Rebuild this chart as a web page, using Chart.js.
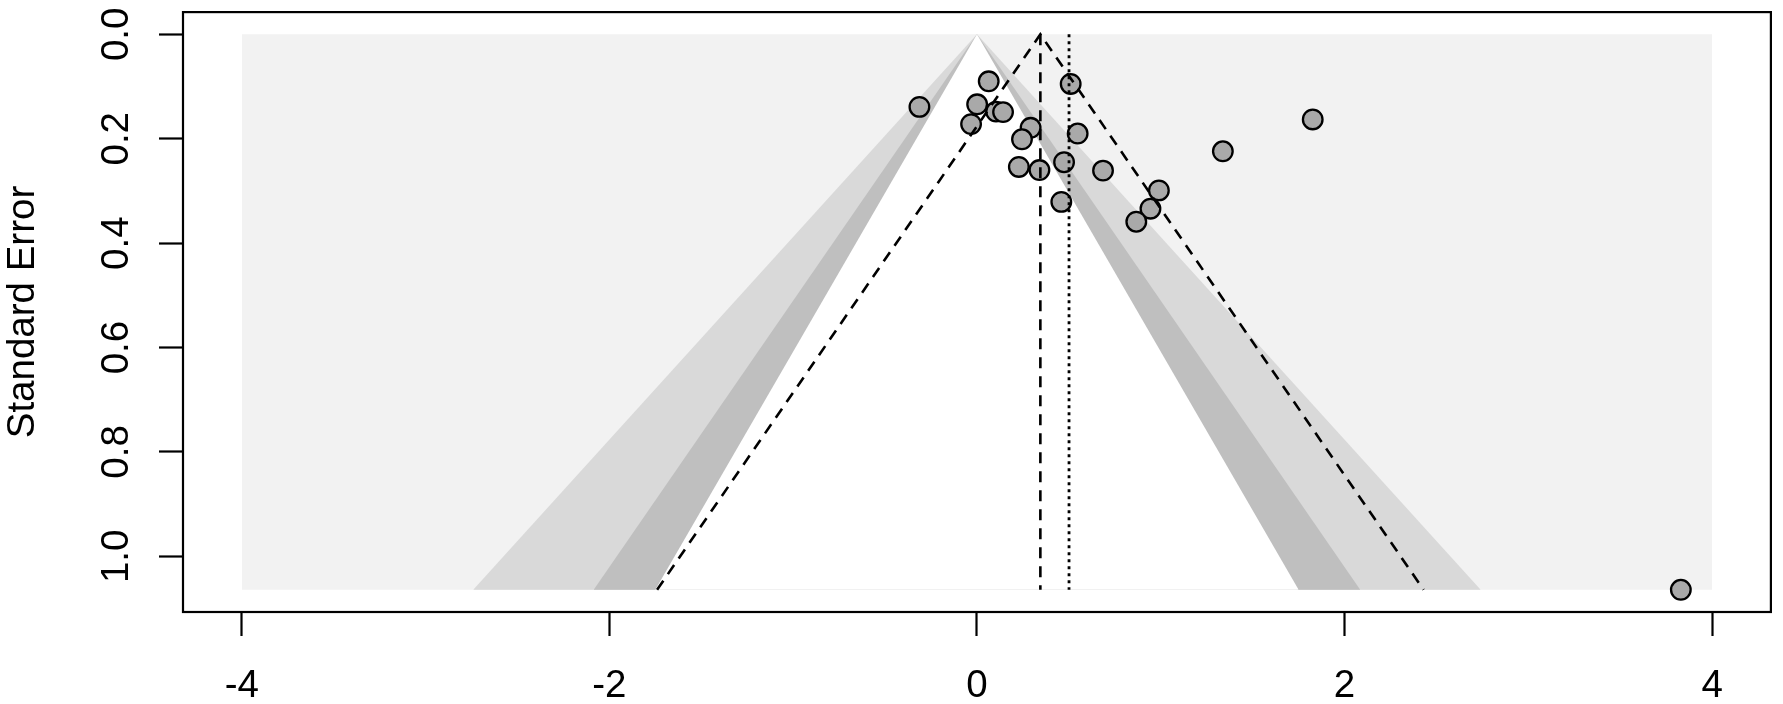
<!DOCTYPE html>
<html lang="en">
<head>
    <meta charset="UTF-8">
    <title>Funnel plot</title>
    <!-- ChartJS cdn -->
    <script src="https://cdn.jsdelivr.net/npm/chart.js"></script>
    <style>
        body { margin: 0; background: #fff; }
        .chart-box { width: 1783px; height: 704px; }
    </style>
</head>
<body>
    <div class="chart-box">
        <canvas class="custom-chart"></canvas>
    </div>

    <script type="text/javascript">
        // study data (effect size, standard error)
        var effectSizes = [-0.313, 0.064, 0.001, 0.104, 0.142, -0.032, 0.292, 0.245, 0.228, 0.340, 0.474,
                           0.459, 0.510, 0.548, 0.686, 0.990, 0.944, 0.867, 1.338, 1.827, 3.830];
        var standardErrors = [0.139, 0.090, 0.134, 0.148, 0.149, 0.172, 0.179, 0.201, 0.254, 0.260, 0.245,
                              0.321, 0.095, 0.190, 0.261, 0.299, 0.334, 0.359, 0.224, 0.163, 1.064];

        var pooledEstimate = 0.345;   // dashed line + pseudo confidence funnel
        var dottedEstimate = 0.501;   // dotted line
        var seMax = 1.064;            // bottom of the funnel
        var xLimits = [-4, 4];        // grey background extent
        var contourZ = [2.576, 1.96, 1.645]; // p = .01, .05, .10 contours

        var xTicks = [-4, -2, 0, 2, 4];
        var xTickLabels = ['-4', '-2', '0', '2', '4'];
        var yTicks = [0, 0.2, 0.4, 0.6, 0.8, 1.0];
        var yTickLabels = ['0.0', '0.2', '0.4', '0.6', '0.8', '1.0'];

        var FONT = 'Liberation Sans, Arial, sans-serif';
        var FONT_SIZE = 38.5;

        // triangle centred on zero, filled down to seMax
        function contour(z, color, order) {
            var a = z * seMax;
            return {
                data: [{ x: -a, y: seMax }, { x: 0, y: 0 }, { x: a, y: seMax }],
                fill: { value: seMax },
                backgroundColor: color,
                borderWidth: 0,
                pointRadius: 0,
                order: order
            };
        }

        var points = [];
        for (var i = 0; i < effectSizes.length; i++) {
            points.push({ x: effectSizes[i], y: standardErrors[i] });
        }

        var ciHalf = 1.96 * seMax;
        var datasets = [
            // background
            {
                data: [{ x: xLimits[0], y: 0 }, { x: xLimits[1], y: 0 }],
                fill: { value: seMax },
                backgroundColor: '#f2f2f2',
                borderWidth: 0,
                pointRadius: 0,
                order: 6
            },
            contour(contourZ[0], '#d9d9d9', 5),
            contour(contourZ[1], '#bfbfbf', 4),
            contour(contourZ[2], '#ffffff', 3),
            // studies
            {
                data: points,
                showLine: false,
                pointRadius: 9.8,
                pointBorderWidth: 2.3,
                pointBackgroundColor: '#a9a9a9',
                pointBorderColor: '#000',
                order: 2
            },
            // pseudo confidence funnel
            {
                data: [{ x: pooledEstimate - ciHalf, y: seMax }, { x: pooledEstimate, y: 0 }, { x: pooledEstimate + ciHalf, y: seMax }],
                fill: false,
                borderColor: '#000',
                borderWidth: 2.6,
                borderDash: [11, 8],
                pointRadius: 0,
                order: 1
            },
            {
                data: [{ x: pooledEstimate, y: 0 }, { x: pooledEstimate, y: seMax }],
                fill: false,
                borderColor: '#000',
                borderWidth: 2.6,
                borderDash: [11, 8],
                pointRadius: 0,
                order: 1
            },
            {
                data: [{ x: dottedEstimate, y: 0 }, { x: dottedEstimate, y: seMax }],
                fill: false,
                borderColor: '#000',
                borderWidth: 2.8,
                borderDash: [3, 4],
                pointRadius: 0,
                order: 1
            }
        ];

        // frame around the plot + rotated y labels (R style)
        var framePlugin = {
            id: 'frame',
            afterDraw: function (chart) {
                var ctx = chart.ctx;
                var area = chart.chartArea;
                ctx.save();
                ctx.strokeStyle = '#000';
                ctx.lineWidth = 2.2;
                ctx.strokeRect(area.left, area.top, area.right - area.left, area.bottom - area.top);

                var ys = chart.scales.y;
                ctx.fillStyle = '#000';
                ctx.font = FONT_SIZE + 'px ' + FONT;
                ctx.textAlign = 'center';
                ctx.textBaseline = 'alphabetic';
                for (var i = 0; i < yTicks.length; i++) {
                    var py = ys.getPixelForValue(yTicks[i]);
                    ctx.save();
                    ctx.translate(area.left - 55, py);
                    ctx.rotate(-Math.PI / 2);
                    ctx.fillText(yTickLabels[i], 0, 0);
                    ctx.restore();
                }
                ctx.restore();
            }
        };

        var ctx = document.querySelector('.custom-chart');
        new Chart(ctx, {
            type: 'line',
            data: { datasets: datasets },
            options: {
                responsive: true,
                maintainAspectRatio: false,
                animation: false,
                events: [],
                layout: { padding: { top: 11, right: 9, left: 0, bottom: 0 } },
                elements: { line: { tension: 0 } },
                plugins: {
                    legend: { display: false },
                    tooltip: { enabled: false }
                },
                scales: {
                    x: {
                        type: 'linear',
                        min: -4.32,
                        max: 4.32,
                        afterBuildTicks: function (scale) {
                            scale.ticks = xTicks.map(function (v) { return { value: v }; });
                        },
                        afterFit: function (scale) { scale.height = 92; },
                        border: { display: false },
                        grid: {
                            drawOnChartArea: false,
                            drawTicks: true,
                            tickLength: 24,
                            tickWidth: 2.2,
                            tickColor: '#000'
                        },
                        ticks: {
                            color: '#000',
                            font: { size: FONT_SIZE, family: FONT },
                            padding: 27,
                            maxRotation: 0,
                            callback: function (value, index) { return xTickLabels[index]; }
                        }
                    },
                    y: {
                        type: 'linear',
                        reverse: true,
                        min: -0.0426,
                        max: 1.1066,
                        afterBuildTicks: function (scale) {
                            scale.ticks = yTicks.map(function (v) { return { value: v }; });
                        },
                        afterFit: function (scale) { scale.width = 183; },
                        border: { display: false },
                        grid: {
                            drawOnChartArea: false,
                            drawTicks: true,
                            tickLength: 24,
                            tickWidth: 2.2,
                            tickColor: '#000'
                        },
                        ticks: { display: false },
                        title: {
                            display: true,
                            text: 'Standard Error',
                            color: '#000',
                            font: { size: FONT_SIZE, family: FONT },
                            padding: { top: 0, bottom: 0 }
                        }
                    }
                }
            },
            plugins: [framePlugin]
        });
    </script>
</body>
</html>
